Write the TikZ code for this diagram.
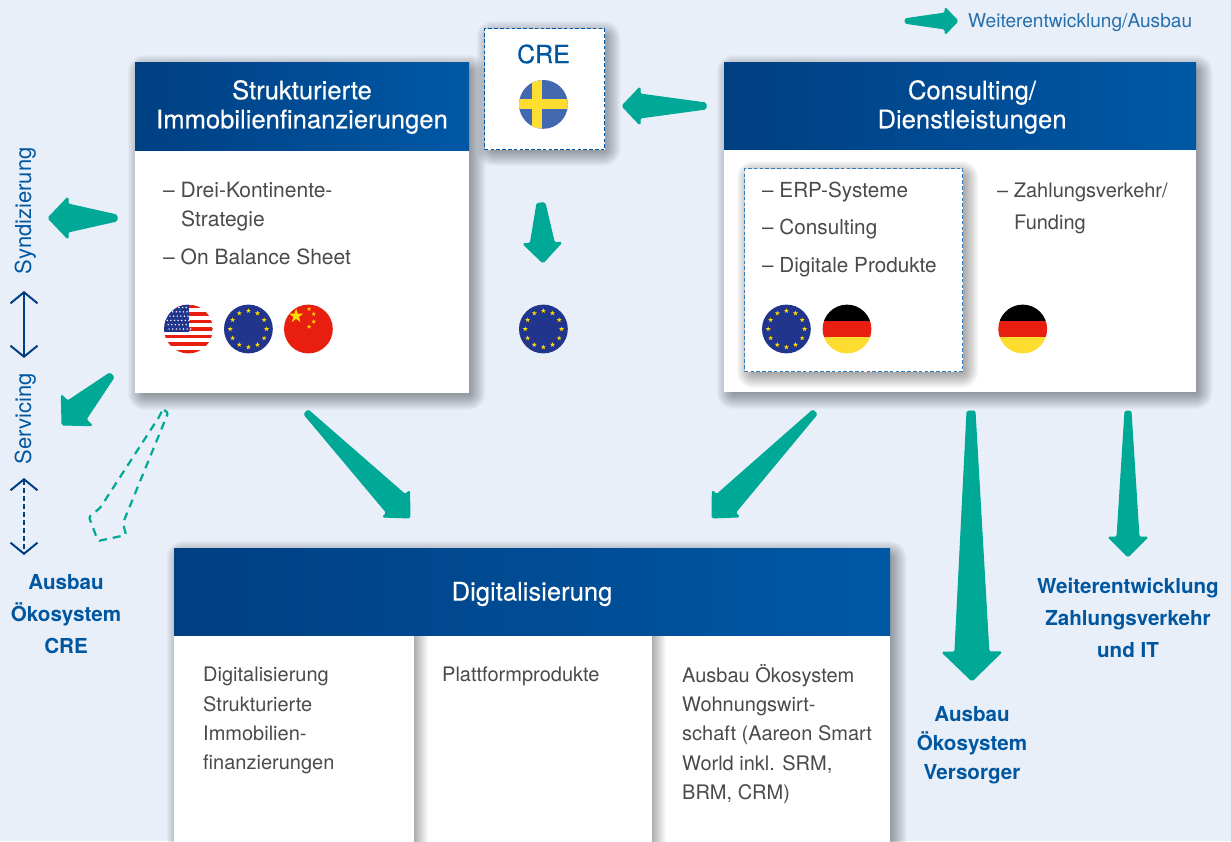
\documentclass[tikz,border=0pt]{standalone}
\usepackage{fontspec}
\setmainfont{TeX Gyre Heros}
\newfontfamily\medfont[FakeBold=0.3]{TeX Gyre Heros}
\usetikzlibrary{calc, arrows.meta}
\definecolor{pagetint}{HTML}{E8EFF9}
\definecolor{headdark}{HTML}{003F82}
\definecolor{headlight}{HTML}{0058A5}
\definecolor{dashlight}{HTML}{2F7DBF}
\definecolor{wedgegreen}{HTML}{00A996}
\definecolor{labelblue}{HTML}{00569F}
\definecolor{bodygray}{HTML}{4A4A4A}
\definecolor{eublue}{HTML}{22358C}
\definecolor{stargold}{HTML}{FFDD00}
\definecolor{flagred}{HTML}{E71E10}
\definecolor{flaggold}{HTML}{FFDC30}
\definecolor{sweblue}{HTML}{4268B0}
\newcommand{\flagstar}[2]{\fill[stargold,shift={(#1)},scale=#2] (-90:1) -- (54:1) -- (198:1) -- (342:1) -- (126:1) -- cycle;}
\newcommand{\wedgearrow}[6]{%
  \coordinate (wb) at ($(#2)!#6!(#1)$);
  \fill[wedge] ($(#1)!#3!90:(#2)$) -- ($(wb)!#4!90:(#2)$) -- ($(wb)!#5!90:(#2)$) -- (#2)
    -- ($(wb)!#5!-90:(#2)$) -- ($(wb)!#4!-90:(#2)$) -- ($(#1)!#3!-90:(#2)$) -- cycle;}
\newcommand{\softshadow}[4]{%
  \foreach \g in {-4,...,12} {
    \pgfmathsetmacro{\rad}{\g+5}
    \fill[black,opacity=.024,rounded corners=\rad pt] (#1+4.5-\g,#2+5-\g) rectangle (#3+4.5+\g,#4+5+\g);
  }}
\tikzset{
  panelbox/.style={shape=rectangle,inner sep=0pt,anchor=north west,fill=white},
  dashbox/.style={panelbox,draw=headlight,line width=1.4pt,dash pattern=on 3.6pt off 2.2pt},
  headbar/.style={shape=rectangle,inner sep=0pt,anchor=north west,left color=headdark,right color=headlight},
  titletext/.style={inner sep=0pt,text=white,align=center,font=\fontsize{25.6}{29}\medfont},
  itemtext/.style={inner sep=0pt,anchor=base west,text=bodygray,font=\fontsize{20.7}{29.3}\selectfont},
  columntext/.style={itemtext,anchor=north west,align=left,font=\fontsize{20}{29.3}\selectfont},
  sidelabel/.style={inner sep=0pt,align=center,text=labelblue,font=\fontsize{20.6}{#1}\selectfont\bfseries},
  turnlabel/.style={inner sep=0pt,anchor=base,rotate=90,text=labelblue,font=\fontsize{22}{26}\selectfont},
  wedge/.style={fill=wedgegreen,draw=wedgegreen,line width=1pt,line join=round,rounded corners=1.5pt},
  openwedge/.style={draw=wedgegreen,line width=2.2pt,dash pattern=on 8pt off 6pt,rounded corners=1.5pt},
  biarrow/.style={draw=headdark,line width=2pt,{Straight Barb[length=11pt,width=27pt]}-{Straight Barb[length=11pt,width=27pt]}},
  euflag/.pic={
    \fill[eublue] (0,0) circle[radius=24.4pt];
    \foreach \a in {0,30,...,330} {\flagstar{\a:18.2}{2.6}}
  },
  deflag/.pic={
    \begin{scope}
      \clip (0,0) circle[radius=24.4pt];
      \fill[black] (-25,-25) rectangle (25,-8);
      \fill[flagred] (-25,-8) rectangle (25,8);
      \fill[flaggold] (-25,8) rectangle (25,25);
    \end{scope}
  },
  cnflag/.pic={
    \fill[flagred] (0,0) circle[radius=24.4pt];
    \flagstar{-12.3,-13}{7.5}
    \flagstar{0.7,-20}{2.4}
    \flagstar{5.3,-15}{2.4}
    \flagstar{5.3,-7.3}{2.4}
    \flagstar{0.7,-2.3}{2.4}
  },
  seflag/.pic={
    \begin{scope}
      \clip (0,0) circle[radius=24.4pt];
      \fill[sweblue] (-25,-25) rectangle (25,25);
      \fill[flaggold] (-11.7,-25) rectangle (-1,25);
      \fill[flaggold] (-25,-5) rectangle (25,5);
    \end{scope}
  },
  usflag/.pic={
    \begin{scope}
      \clip (0,0) circle[radius=24.4pt];
      \fill[white] (-25,-25) rectangle (25,25);
      \foreach \i in {0,...,6} {\fill[flagred] (-25,-24.4+7.55*\i) rectangle (25,-20.8+7.55*\i);}
      \fill[eublue] (-25,-25) rectangle (1,2.7);
      \foreach \r in {0,...,5} {\foreach \c in {0,...,6} {\fill[white] (-22+3.6*\c+0.9*\r-1.8,-21.5+4.3*\r) circle[radius=.8pt];}}
    \end{scope}
  }
}
\begin{document}
\begin{tikzpicture}[x=1pt,y=-1pt]
  \useasboundingbox (0,0) rectangle (1231,841);
  \fill[pagetint] (0,0) rectangle (1231,841);

  \softshadow{135}{62}{469}{393}
  \node[panelbox,minimum width=334pt,minimum height=331pt] (struktBox) at (135,62) {};
  \node[headbar,minimum width=334pt,minimum height=88pt] (struktHead) at (135,62) {};
  \node[titletext] (struktTitle) at (302,107) {Strukturierte\\Immobilienfinanzierungen};
  \node[itemtext,font=\fontsize{21}{29}\selectfont] (struktDrei) at (163,197) {– Drei-Kontinente-};
  \node[itemtext,font=\fontsize{21}{29}\selectfont] (struktStrat) at (181,226) {Strategie};
  \node[itemtext,font=\fontsize{21}{29}\selectfont] (struktBalance) at (163,264) {– On Balance Sheet};
  \pic (flagUs) at (188.4,329) {usflag};
  \pic (flagEuA) at (248.4,329) {euflag};
  \pic (flagCn) at (308.4,329) {cnflag};

  \softshadow{484}{28}{604}{149}
  \node[dashbox,minimum width=120pt,minimum height=121pt] (creBox) at (484,28) {};
  \node[inner sep=0pt,text=labelblue,font=\fontsize{25}{29}\medfont] (creText) at (543.5,54) {CRE};
  \pic (flagSe) at (543.4,104.4) {seflag};
  \pic (flagEuB) at (543.4,329) {euflag};

  \softshadow{724}{62}{1196}{392}
  \node[panelbox,minimum width=472pt,minimum height=330pt] (consultBox) at (724,62) {};
  \node[headbar,minimum width=472pt,minimum height=87pt] (consultHead) at (724,62) {};
  \node[titletext] (consultTitle) at (972,107) {Consulting/\\Dienstleistungen};
  \softshadow{744}{168}{962}{371}
  \node[dashbox,draw=dashlight,minimum width=218pt,minimum height=203pt] (erpBox) at (744,168) {};
  \node[itemtext] (erpSys) at (762,197) {– ERP-Systeme};
  \node[itemtext] (erpCons) at (762,234) {– Consulting};
  \node[itemtext] (erpDigi) at (762,272) {– Digitale Produkte};
  \pic (flagEuC) at (786.4,329) {euflag};
  \pic (flagDeA) at (847,329) {deflag};
  \node[itemtext,font=\fontsize{20}{29}\selectfont] (payZahl) at (997,197) {– Zahlungsverkehr/};
  \node[itemtext,font=\fontsize{20}{29}\selectfont] (payFund) at (1014,229) {Funding};
  \pic (flagDeB) at (1022.7,329) {deflag};

  \softshadow{174}{548}{890}{850}
  \node[panelbox,minimum width=716pt,minimum height=300pt] (digiBox) at (174,548) {};
  \shade[left color=black!32,middle color=black!4,right color=white] (414,634.5) rectangle (428,848);
  \shade[left color=black!32,middle color=black!4,right color=white] (652,634.5) rectangle (666,848);
  \node[headbar,minimum width=716pt,minimum height=87pt] (digiHead) at (174,548) {};
  \node[titletext] (digiTitle) at (532,594) {Digitalisierung};
  \node[columntext] (digiColA) at (203,667) {Digitalisierung\\Strukturierte\\Immobilien-\\finanzierungen};
  \node[columntext] (digiColB) at (442,667) {Plattformprodukte};
  \node[columntext] (digiColC) at (682,664) {Ausbau Ökosystem\\Wohnungswirt-\\schaft (Aareon Smart\\World inkl. SRM,\\BRM, CRM)};

  \node[turnlabel] (syndText) at (31,211) {Syndizierung};
  \node[turnlabel] (servText) at (31,419) {Servicing};
  \node[sidelabel=32pt] (labelCre) at (66,614) {Ausbau\\Ökosystem\\CRE};
  \node[sidelabel=29pt] (labelVers) at (972,745) {Ausbau\\Ökosystem\\Versorger};
  \node[sidelabel=32pt] (labelPay) at (1128,618) {Weiterentwicklung\\Zahlungsverkehr\\und IT};
  \node[inner sep=0pt,anchor=west,text=labelblue!85,font=\fontsize{19.1}{22}\selectfont] (legendText) at (968,22.5) {Weiterentwicklung/Ausbau};

  \coordinate (legendTail) at (905,21);
  \coordinate (legendTip) at (958,21);
  \coordinate (creTail) at (706,106);
  \coordinate (creTip) at (622,106);
  \coordinate (syndTail) at (117,218);
  \coordinate (syndTip) at (48,218);
  \coordinate (servTail) at (112,375);
  \coordinate (servTip) at (62,425);
  \coordinate (euTail) at (541,203);
  \coordinate (euTip) at (543,263);
  \coordinate (digiTailA) at (306,412);
  \coordinate (digiTipA) at (410,518);
  \coordinate (digiTailB) at (815,412);
  \coordinate (digiTipB) at (712,518);
  \coordinate (versTail) at (971,411);
  \coordinate (versTip) at (972,681);
  \coordinate (payTail) at (1128,411);
  \coordinate (payTip) at (1128,557);

  \wedgearrow{legendTail}{legendTip}{2.2pt}{8pt}{13.5pt}{13pt}
  \wedgearrow{creTail}{creTip}{3pt}{12pt}{19pt}{18pt}
  \wedgearrow{syndTail}{syndTip}{3pt}{14pt}{21pt}{20pt}
  \wedgearrow{servTail}{servTip}{3pt}{13pt}{22pt}{21pt}
  \wedgearrow{euTail}{euTip}{4pt}{12pt}{19.5pt}{20pt}
  \wedgearrow{digiTailA}{digiTipA}{3pt}{13pt}{19pt}{20pt}
  \wedgearrow{digiTailB}{digiTipB}{3pt}{13pt}{19pt}{20pt}
  \wedgearrow{versTail}{versTip}{4pt}{17pt}{30pt}{29pt}
  \wedgearrow{payTail}{payTip}{3pt}{11pt}{20pt}{20pt}

  \draw[openwedge] (163,409) -- (168,413) -- (123,523) -- (126,535) -- (98,541) -- (89,517) -- (100,508) -- (159,417) -- cycle;

  \coordinate (biTopA) at (24,291);
  \coordinate (biLowA) at (24,358);
  \coordinate (biTopB) at (24,478);
  \coordinate (biLowB) at (24,555);
  \draw[biarrow] (biTopA) -- (biLowA);
  \draw[biarrow,dash pattern=on 5pt off 3pt] (biTopB) -- (biLowB);
\end{tikzpicture}
\end{document}
